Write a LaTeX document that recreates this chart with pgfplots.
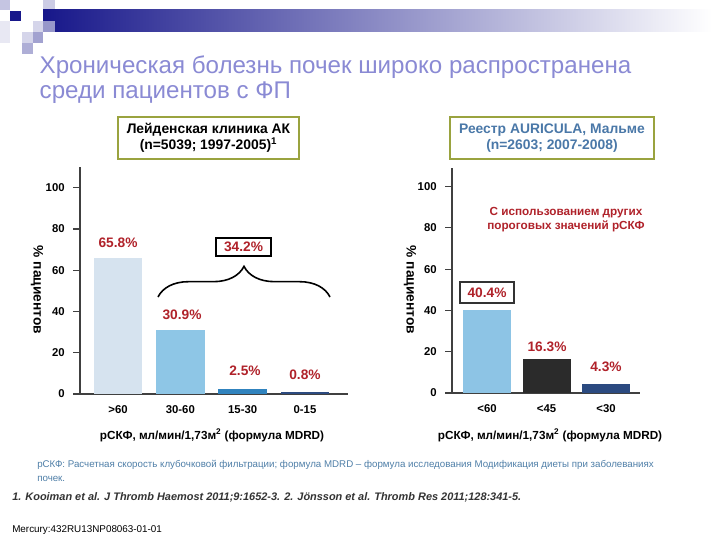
\documentclass[border=0pt]{standalone}
\usepackage{pgfplots}
\pgfplotsset{compat=1.18}
\usepackage{fontspec}
\setmainfont{Liberation Sans}
\usetikzlibrary{decorations.pathreplacing}
\definecolor{titlecol}{HTML}{8A8AD4}
\definecolor{navyhdr}{HTML}{17178A}
\definecolor{olive}{HTML}{9AA33F}
\definecolor{valred}{HTML}{B0222A}
\definecolor{boxblue}{HTML}{4A78A8}
\definecolor{noteblue}{HTML}{4F7FA8}
\definecolor{axgray}{HTML}{404040}
\definecolor{cA}{HTML}{D6E3EF}
\definecolor{cB}{HTML}{8EC6E6}
\definecolor{cC}{HTML}{3083BE}
\definecolor{cD}{HTML}{2D4B80}
\definecolor{cE}{HTML}{8DC4E5}
\definecolor{cF}{HTML}{2B2B2B}
\definecolor{cG}{HTML}{2B4A80}
\pgfplotsset{
  myax/.style={
    scale only axis,
    axis x line=bottom, axis y line=left,
    axis line style={-, draw=axgray, line width=1.1pt},
    ymin=0,
    ytick={0,20,40,60,80,100},
    tick align=outside,
    major tick length=5pt,
    ytick style={draw=axgray, line width=0.9pt},
    xtick style={draw=none},
    xtick={0,1,2,3},
    /pgf/number format/assume math mode=true,
    ticklabel style={font=\fontsize{8.5}{10}\selectfont\bfseries, text=black},
    yticklabel style={xshift=-3pt},
    ybar, bar width=0.78,
    clip=false,
  }
}
\begin{document}
\begin{tikzpicture}[x=0.75pt,y=0.75pt]
\useasboundingbox (0,0) rectangle (720,540);
\fill[white] (0,0) rectangle (720,540);
% header
\shade[left color=navyhdr, right color=white, shading angle=90] (43,508) rectangle (712,530);
\fill[navyhdr!25] (0,530) rectangle (10,540);
\fill[navyhdr!22] (43,531) rectangle (55,540);
\fill[navyhdr] (10,519) rectangle (21,529);
\fill[navyhdr!18] (33,508) rectangle (43,519);
\fill[navyhdr!45] (43,508) rectangle (55,519);
\fill[navyhdr!18] (22,497) rectangle (33,508);
\fill[navyhdr!40] (33,497) rectangle (43,508);
\fill[navyhdr!35] (22,486) rectangle (33,497);
\fill[navyhdr!10] (0,497) rectangle (10,519);
% title
\node[anchor=west, text=titlecol, font=\fontsize{18.1}{19}\selectfont] at (35,473) {Хроническая болезнь почек широко распространена};
\node[anchor=west, text=titlecol, font=\fontsize{18.1}{19}\selectfont] at (35,447) {среди пациентов с ФП};
% boxes
\draw[olive, line width=1.5pt] (118,381) rectangle (299,423);
\node[font=\fontsize{10.4}{12}\selectfont\bfseries, align=center] at (208.5,402) {Лейденская клиника АК\\[0pt](n=5039; 1997-2005)$^{\mathbf{1}}$};
\draw[olive, line width=1.5pt] (450,381) rectangle (654,423);
\node[font=\fontsize{10.4}{12}\selectfont\bfseries, align=center, text=boxblue] at (552,402) {Реестр AURICULA, Мальме\\[0pt](n=2603; 2007-2008)};
% left axis
\begin{axis}[myax, at={(60pt,109.5pt)}, anchor=south west,
  width=201pt, height=170.25pt, ymax=110,
  xmin=-0.61, xmax=3.69,
  xticklabels={>60,30-60,15-30,0-15}]
\addplot[fill=cA, draw=none, bar shift=0pt] coordinates {(0,65.8)};
\addplot[fill=cB, draw=none, bar shift=0pt] coordinates {(1,30.9)};
\addplot[fill=cC, draw=none, bar shift=0pt] coordinates {(2,2.5)};
\addplot[fill=cD, draw=none, bar shift=0pt] coordinates {(3,0.8)};
\end{axis}
% right axis
\begin{axis}[myax, at={(339pt,110.25pt)}, anchor=south west,
  width=141pt, height=168.75pt, ymax=109,
  xmin=-0.59, xmax=2.57, xtick={0,1,2}, bar width=0.81,
  xticklabels={<60,<45,<30}]
\addplot[fill=cE, draw=none, bar shift=0pt] coordinates {(0,40.4)};
\addplot[fill=cF, draw=none, bar shift=0pt] coordinates {(1,16.3)};
\addplot[fill=cG, draw=none, bar shift=0pt] coordinates {(2,4.3)};
\end{axis}
% y labels
\node[rotate=-90, font=\fontsize{10.3}{12}\selectfont\bfseries] at (37,250) {\% пациентов};
\node[rotate=-90, font=\fontsize{10.3}{12}\selectfont\bfseries] at (410,250) {\% пациентов};
% x labels
\node[font=\fontsize{8.8}{10}\selectfont\bfseries] at (212,105) {рСКФ, мл/мин/1,73м$^{\mathbf 2}$ (формула MDRD)};
\node[font=\fontsize{8.8}{10}\selectfont\bfseries] at (550,105) {рСКФ, мл/мин/1,73м$^{\mathbf 2}$ (формула MDRD)};
% value labels
\tikzset{val/.style={text=valred, font=\fontsize{10.3}{12}\selectfont\bfseries}}
\node[val] at (118,297) {65.8\%};
\node[val] at (182,225) {30.9\%};
\node[val] at (245,169) {2.5\%};
\node[val] at (305,165) {0.8\%};
\draw[black, line width=0.8pt] (216,284) rectangle (271,302);
\node[val] at (243.5,293) {34.2\%};
\draw[black, line width=1.2pt, decorate, decoration={brace, amplitude=23pt}] (158,243) -- (330,243);
\draw[black!80, line width=1pt] (460,237) rectangle (514,258);
\node[val] at (487,247.5) {40.4\%};
\node[val] at (547,193) {16.3\%};
\node[val] at (606,173) {4.3\%};
\node[val, font=\fontsize{8.8}{10.2}\selectfont\bfseries, align=center] at (566,320.5) {С использованием других\\пороговых значений рСКФ};
% notes
\node[anchor=north west, text=noteblue, font=\fontsize{7.3}{10.5}\selectfont, align=left, inner sep=0pt] at (37,80) {рСКФ: Расчетная скорость клубочковой фильтрации; формула MDRD – формула исследования Модификация диеты при заболеваниях\\почек.};
\node[anchor=west, text=black!80, font=\fontsize{8.2}{9}\selectfont\bfseries\itshape, inner sep=0pt] at (12,43) {1. Kooiman et al. J Thromb Haemost 2011;9:1652-3. 2. Jönsson et al. Thromb Res 2011;128:341-5.};
\node[anchor=west, font=\fontsize{7.4}{8}\selectfont, inner sep=0pt] at (12,10) {Mercury:432RU13NP08063-01-01};
\end{tikzpicture}
\end{document}
